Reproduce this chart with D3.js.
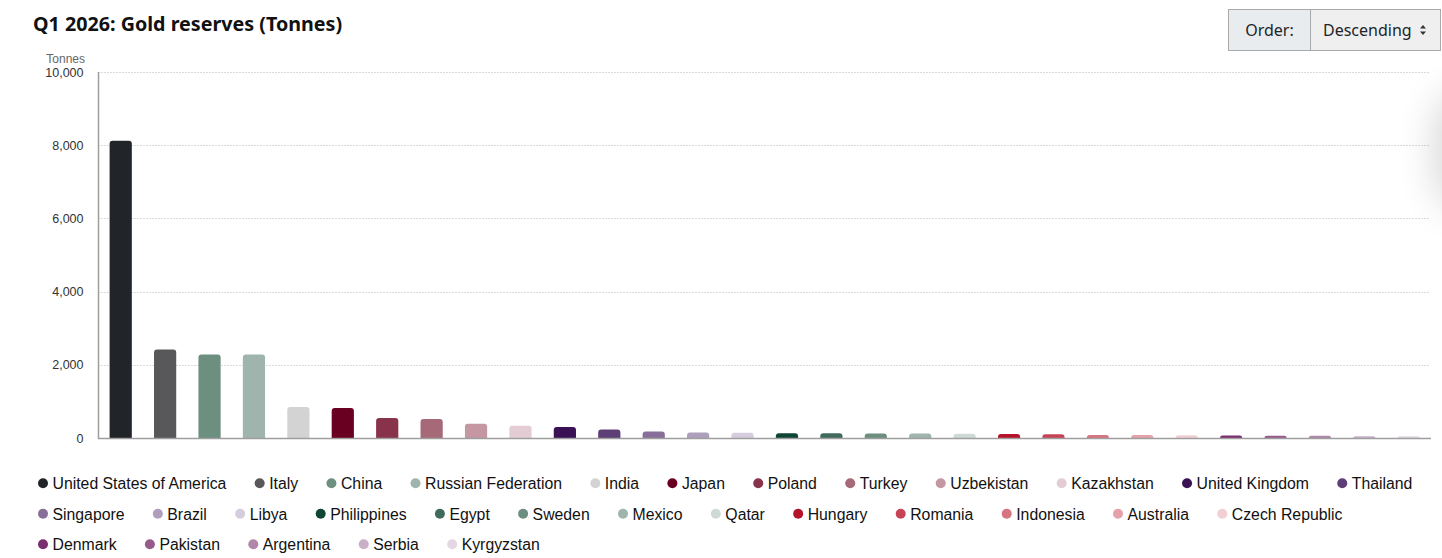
<!DOCTYPE html>
<html>
<head>
<meta charset="utf-8">
<script src="https://cdn.jsdelivr.net/npm/d3@7"></script>
<style>
  body { margin: 0; background: #fff; overflow: hidden; }
  #wrap { position: relative; width: 1442px; height: 558px; overflow: hidden; }
  .order { position: absolute; left: 1228px; top: 9px; width: 213px; height: 42px; box-sizing: border-box;
           border: 1px solid #a9a9a9; display: flex; font-family: "Noto Sans", sans-serif; font-size: 16px; color: #212529; }
  .order .lab { width: 82px; box-sizing: border-box; background: #e9ecef; border-right: 1px solid #a9a9a9;
                display: flex; align-items: center; justify-content: center; }
  .order .sel { flex: 1; background: #efefef; display: flex; align-items: center; padding-left: 12px; position: relative; }
  .order .sel svg { position: absolute; left: 108px; top: 14px; }
  .edge { position: absolute; left: 1442px; top: 95px; width: 60px; height: 110px;
          box-shadow: 0 0 38px 6px rgba(0,0,0,0.16); border-radius: 30px; }
</style>
</head>
<body>
<div id="wrap">
  <svg id="chart" width="1442" height="558"></svg>
  <div class="order"><div class="lab">Order:</div><div class="sel">Descending
    <svg width="8" height="12"><path d="M1,4.5 L4,1 L7,4.5Z M1,7.5 L4,11 L7,7.5Z" fill="#333"/></svg></div></div>
  <div class="edge"></div>
</div>
<script>
// values, tonnes, in descending order
var countries = ["United States of America", "Italy", "China", "Russian Federation", "India", "Japan",
  "Poland", "Turkey", "Uzbekistan", "Kazakhstan", "United Kingdom", "Thailand",
  "Singapore", "Brazil", "Libya", "Philippines", "Egypt", "Sweden", "Mexico", "Qatar",
  "Hungary", "Romania", "Indonesia", "Australia", "Czech Republic",
  "Denmark", "Pakistan", "Argentina", "Serbia", "Kyrgyzstan"];
var tonnes = [8120, 2420, 2280, 2280, 850, 822,
  548, 520, 392, 335, 300, 232,
  180, 150, 146, 130, 128, 126, 120, 117,
  110, 104, 80, 80, 78,
  67, 64, 62, 50, 45];
var colors = ["#212529", "#58585a", "#6d8f80", "#9fb4ac", "#d3d3d4", "#6a0021",
  "#88334b", "#a66977", "#c497a3", "#e3ccd3", "#3a1155", "#5e3e77",
  "#876f99", "#ae9fbc", "#d5cddd", "#0f4535", "#406b5c", "#6d8f80", "#9fb4ac", "#cfd9d5",
  "#b5132b", "#c64455", "#d87380", "#e5a1a9", "#f1cfd4",
  "#7b2e6e", "#965a8b", "#b087a8", "#c9b0c7", "#e4d7e3"];
var yTicks = [0, 2000, 4000, 6000, 8000, 10000];

function drawChart(){
  var data = countries.map(function(c, i){ return {name: c, value: tonnes[i], color: colors[i]}; });

  var svg = d3.select("#chart");
  var plotL = 98.5, plotR = 1431, plotT = 72, plotB = 438;

  var x = d3.scaleBand().domain(countries).range([plotL, plotR]).paddingInner(0.5).paddingOuter(0.25);
  var y = d3.scaleLinear().domain([0, 10000]).range([plotB, plotT]);

  // title
  svg.append("text")
    .attr("x", 33).attr("y", 31)
    .style("font-family", "'Noto Sans', sans-serif").style("font-size", "19.7px").style("font-weight", "bold")
    .style("fill", "#111")
    .text("Q1 2026: Gold reserves (Tonnes)");

  svg.append("text")
    .attr("x", 85).attr("y", 63).attr("text-anchor", "end")
    .style("font-family", "'Liberation Sans', Arial, sans-serif").style("font-size", "12px").style("fill", "#666")
    .text("Tonnes");

  // gridlines
  svg.append("g").selectAll("line")
    .data(yTicks.filter(function(d){ return d > 0; }))
    .enter().append("line")
    .attr("x1", plotL).attr("x2", plotR - 1)
    .attr("y1", function(d){ return Math.round(y(d)) + 0.5; })
    .attr("y2", function(d){ return Math.round(y(d)) + 0.5; })
    .style("stroke", "#b5b5b5").style("stroke-dasharray", "1,2");

  // y axis
  var yAxis = d3.axisLeft(y).tickValues(yTicks).tickSize(0).tickPadding(15).tickFormat(d3.format(","));
  var gy = svg.append("g").attr("transform", "translate(" + plotL + ",0)").call(yAxis);
  gy.select(".domain").remove();
  gy.selectAll("text")
    .style("font-family", "'Liberation Sans', Arial, sans-serif").style("font-size", "12.5px").style("fill", "#333");

  svg.append("line").attr("x1", plotL).attr("x2", plotL).attr("y1", plotT).attr("y2", plotB)
    .style("stroke", "#9e9e9e").style("stroke-width", 1.5);

  // bars, rounded at the top
  function barPath(d){
    var x0 = x(d.name), w = x.bandwidth(), y0 = y(d.value), h = plotB - y0;
    var r = Math.min(3, h, w / 2);
    return "M" + x0 + "," + plotB +
      "V" + (y0 + r) +
      "Q" + x0 + "," + y0 + " " + (x0 + r) + "," + y0 +
      "H" + (x0 + w - r) +
      "Q" + (x0 + w) + "," + y0 + " " + (x0 + w) + "," + (y0 + r) +
      "V" + plotB + "Z";
  }
  svg.append("g").selectAll("path")
    .data(data)
    .enter().append("path")
    .attr("d", barPath)
    .style("fill", function(d){ return d.color; });

  svg.append("line").attr("x1", plotL - 0.75).attr("x2", plotR).attr("y1", plotB + 0.5).attr("y2", plotB + 0.5)
    .style("stroke", "#9e9e9e").style("stroke-width", 1.5);

  // legend, wrapped in rows
  var legend = svg.append("g");
  var lx = 43, row = 0, limit = 1434;
  data.forEach(function(d){
    var item = legend.append("g");
    var t = item.append("text")
      .attr("x", 9.5).attr("y", 5.7)
      .style("font-family", "'Liberation Sans', Arial, sans-serif").style("font-size", "15.8px").style("fill", "#111")
      .text(d.name);
    var w = t.node().getComputedTextLength();
    if (lx + 9.5 + w > limit) { row++; lx = 43; }
    item.append("circle").attr("r", 5).style("fill", d.color);
    item.attr("transform", "translate(" + lx + "," + (483.3 + row * 30.5) + ")");
    lx += 9.5 + w + 33.3;
  });
}

drawChart();
</script>
</body>
</html>
